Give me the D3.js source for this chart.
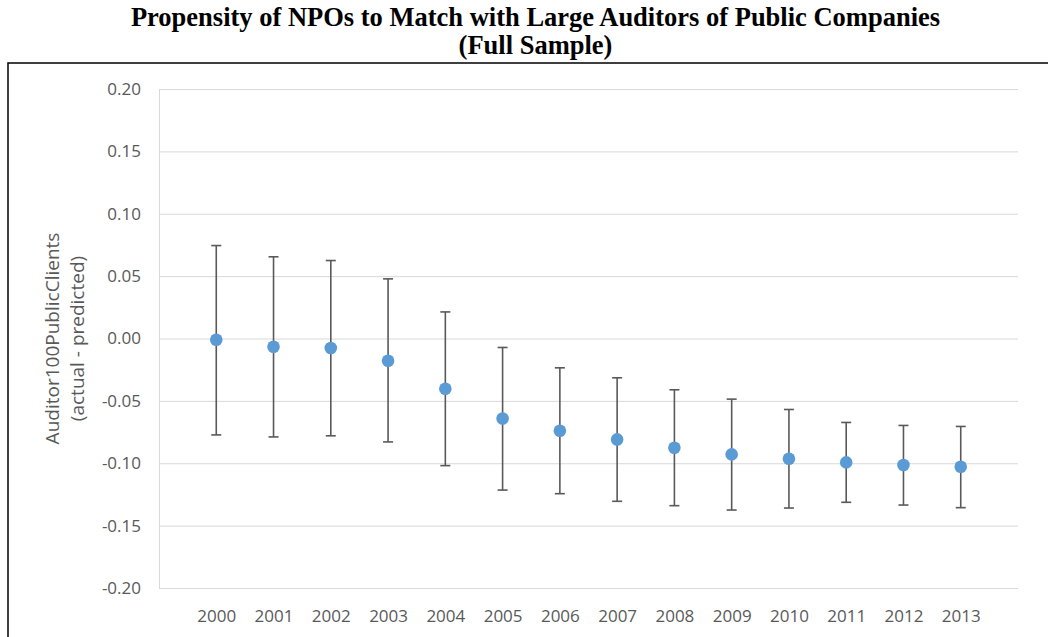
<!DOCTYPE html>
<html><head><meta charset="utf-8">
<script src="https://cdn.jsdelivr.net/npm/d3@7"></script>
<style>body{margin:0;background:#fff}svg{display:block}</style>
</head><body>
<script>
const years = [2000,2001,2002,2003,2004,2005,2006,2007,2008,2009,2010,2011,2012,2013];
const estimate = [-0.001,-0.0066,-0.0076,-0.0178,-0.0403,-0.0641,-0.0739,-0.0809,-0.0876,-0.0929,-0.0964,-0.0993,-0.1014,-0.1028];
const upper = [0.0745,0.0655,0.0625,0.0478,0.0213,-0.0072,-0.0235,-0.0315,-0.0411,-0.0486,-0.0569,-0.0673,-0.0697,-0.0705];
const lower = [-0.0773,-0.0789,-0.078,-0.0829,-0.1019,-0.1215,-0.1244,-0.1305,-0.134,-0.1375,-0.1359,-0.1313,-0.1335,-0.1356];
const yTicks = [0.20,0.15,0.10,0.05,0.00,-0.05,-0.10,-0.15,-0.20];
const titleLines = ["Propensity of NPOs to Match with Large Auditors of Public Companies","(Full Sample)"];
const yTitle = ["Auditor100PublicClients","(actual - predicted)"];

const W=1048,H=637;
const svg=d3.select("body").append("svg").attr("width",W).attr("height",H);
const x=d3.scaleLinear().domain([1999,2014]).range([159,1018]);
const y=d3.scaleLinear().domain([-0.20,0.20]).range([588,89]);

// title
svg.append("g").selectAll("text").data(titleLines).join("text")
  .attr("x",535.5).attr("y",(d,i)=>25.5+i*28.5).attr("text-anchor","middle")
  .attr("font-family","'Liberation Serif','Times New Roman',serif").attr("font-weight","bold")
  .attr("font-size",26.5).attr("fill","#000").text(d=>d);

// frame
svg.append("rect").attr("x",8).attr("y",63).attr("width",W+20).attr("height",H+20)
  .attr("fill","none").attr("stroke","#000").attr("stroke-width",1.5);

// grid
const yAxis=d3.axisLeft(y).tickValues(yTicks).tickFormat(d3.format(".2f")).tickSize(-(1018-159)).tickPadding(18);
const gy=svg.append("g").attr("transform","translate(159,0)").call(yAxis);
gy.select(".domain").attr("stroke","#d9d9d9");
gy.selectAll(".tick line").attr("stroke","#d9d9d9").attr("stroke-width",1);
gy.selectAll(".tick text").attr("font-family","'Open Sans',sans-serif").attr("font-size",17).attr("fill","#595959")
  .text(d=>d3.format(".2f")(d).replace("−","-"));

const xAxis=d3.axisBottom(x).tickValues(years).tickFormat(d3.format("d")).tickSize(0).tickPadding(16);
const gx=svg.append("g").attr("transform","translate(0,588)").call(xAxis);
gx.select(".domain").remove();
gx.selectAll(".tick text").attr("font-family","'Open Sans',sans-serif").attr("font-size",17).attr("fill","#595959")
  .attr("y",34).attr("dy",0);

// y title
svg.append("g").attr("transform","translate(54,338.5) rotate(-90)").selectAll("text").data(yTitle).join("text")
  .attr("x",0).attr("y",(d,i)=>i*25).attr("text-anchor","middle").attr("dominant-baseline","middle")
  .attr("font-family","'Open Sans',sans-serif").attr("font-size",19).attr("fill","#595959").text(d=>d);

// error bars
const data=years.map((yr,i)=>({yr,e:estimate[i],u:upper[i],l:lower[i]}));
const eb=svg.append("g").attr("stroke","#595959").attr("stroke-width",1.6);
eb.selectAll(".v").data(data).join("line").attr("x1",d=>x(d.yr)).attr("x2",d=>x(d.yr)).attr("y1",d=>y(d.u)).attr("y2",d=>y(d.l));
eb.selectAll(".t").data(data).join("line").attr("x1",d=>x(d.yr)-5).attr("x2",d=>x(d.yr)+5).attr("y1",d=>y(d.u)).attr("y2",d=>y(d.u));
eb.selectAll(".b").data(data).join("line").attr("x1",d=>x(d.yr)-5).attr("x2",d=>x(d.yr)+5).attr("y1",d=>y(d.l)).attr("y2",d=>y(d.l));

svg.append("g").selectAll("circle").data(data).join("circle")
  .attr("cx",d=>x(d.yr)).attr("cy",d=>y(d.e)).attr("r",6.3).attr("fill","#5b9bd5");
</script>
</body></html>
